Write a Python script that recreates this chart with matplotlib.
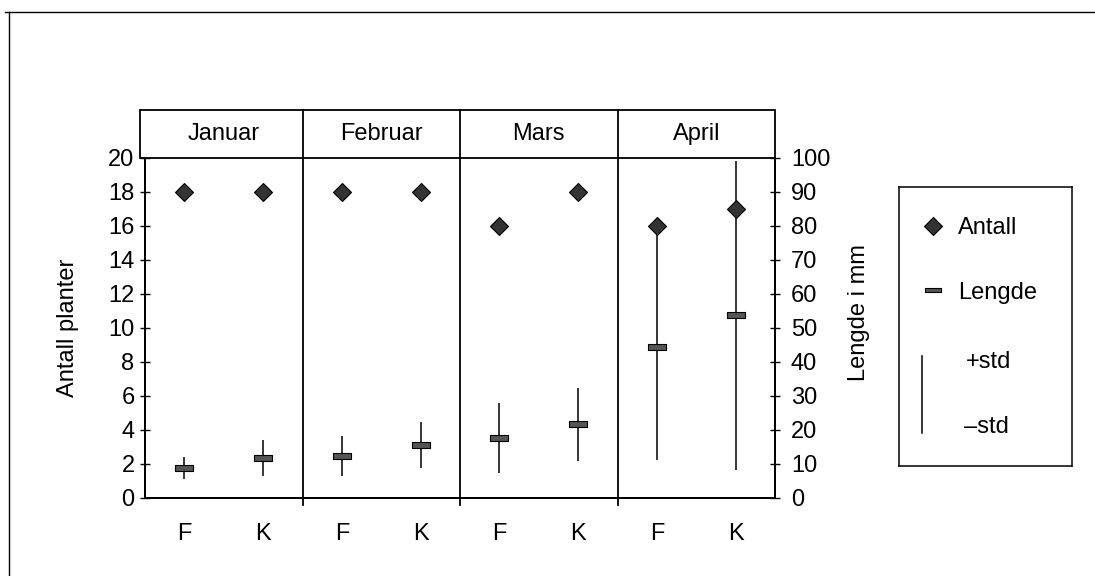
import matplotlib
matplotlib.use("Agg")
import matplotlib.pyplot as plt
from matplotlib.patches import Rectangle
from matplotlib.lines import Line2D

plt.rcParams["font.family"] = ["Liberation Sans", "DejaVu Sans"]
plt.rcParams["font.size"] = 17

months = ["Januar", "Februar", "Mars", "April"]
groups = ["F", "K", "F", "K", "F", "K", "F", "K"]
antall = [18, 18, 18, 18, 16, 18, 16, 17]
lengde = [8.7, 11.6, 12.2, 15.5, 17.6, 21.6, 44.4, 53.7]
lengde_std = [3.2, 5.4, 6.0, 6.8, 10.3, 10.8, 33.5, 45.5]

fig = plt.figure(figsize=(10.95, 5.76), dpi=100)
ax = fig.add_axes([145 / 1095, 1 - 497.5 / 576, 630 / 1095, 339.5 / 576])
ax2 = ax.twinx()

x = [i + 0.5 for i in range(len(groups))]

# std lines and mean length on the right axis
lo = [m - s for m, s in zip(lengde, lengde_std)]
hi = [m + s for m, s in zip(lengde, lengde_std)]
ax2.vlines(x, lo, hi, color="black", lw=1.1, zorder=2)
bar = [(-1, -0.32), (1, -0.32), (1, 0.32), (-1, 0.32), (-1, -0.32)]
ax2.plot(x, lengde, ls="none", marker=bar, ms=13, mfc="#555555",
         mec="black", mew=0.8, zorder=3)

# number of plants (left scale 0-20 maps onto right scale 0-100)
ax2.plot(x, [a * 5 for a in antall], ls="none", marker="D", ms=9.5,
         mfc="#333333", mec="black", mew=0.8, zorder=4)

ax.set_xlim(0, 8)
ax.set_ylim(0, 20)
ax2.set_ylim(0, 100)
ax.set_yticks(range(0, 21, 2))
ax2.set_yticks(range(0, 101, 10))
ax.set_xticks(x)
ax.set_xticklabels(groups)
ax.tick_params(axis="x", length=0, pad=18)
ax.tick_params(axis="y", direction="inout", length=7, width=1, pad=4)
ax2.tick_params(axis="y", direction="inout", length=7, width=1, pad=8)

for a in (ax, ax2):
    a.spines["top"].set_visible(False)
    for s in a.spines.values():
        s.set_linewidth(1.3)

ax.set_ylabel("Antall planter")
ax2.set_ylabel("Lengde i mm")
ax.yaxis.set_label_coords(-0.105, 0.5)
ax2.yaxis.set_label_coords(1.116, 0.546)

# month header above the plot
tr = ax.get_xaxis_transform()
head_h = 48 / 339.5
ax.add_patch(Rectangle((-0.063, 1), 8.063, head_h, transform=tr, fill=False,
                       lw=1.3, ec="black", clip_on=False))
for d in (2, 4, 6):
    ax.plot([d, d], [-0.022, 1 + head_h], transform=tr, color="black",
            lw=1.3, clip_on=False)
for i, m in enumerate(months):
    ax.text(2 * i + 1, 1 + head_h / 2, m, transform=tr, ha="center",
            va="center")

# legend box
lg = fig.add_axes([899 / 1095, 1 - 466 / 576, 173 / 1095, 279 / 576])
lg.set_xlim(899, 1072)
lg.set_ylim(466, 187)
lg.set_xticks([])
lg.set_yticks([])
for s in lg.spines.values():
    s.set_linewidth(1.1)
lg.plot([933], [226], ls="none", marker="D", ms=9, mfc="#333333",
        mec="black", mew=0.8)
lg.text(958, 228, "Antall", va="center")
lg.plot([933], [290], ls="none", marker=bar, ms=11, mfc="#555555",
        mec="black", mew=0.8)
lg.text(958, 293, "Lengde", va="center")
lg.plot([922, 922], [356, 433], color="black", lw=1.1)
lg.text(966, 362, "+std", va="center")
lg.text(964, 427, "\u2013std", va="center")

# page frame
fig.add_artist(Line2D([5 / 1095, 1], [1 - 12 / 576] * 2, color="black",
                      lw=1.0, transform=fig.transFigure))
fig.add_artist(Line2D([9 / 1095] * 2, [0, 1 - 12 / 576], color="black",
                      lw=1.0, transform=fig.transFigure))

fig.savefig("out.png", dpi=100)
